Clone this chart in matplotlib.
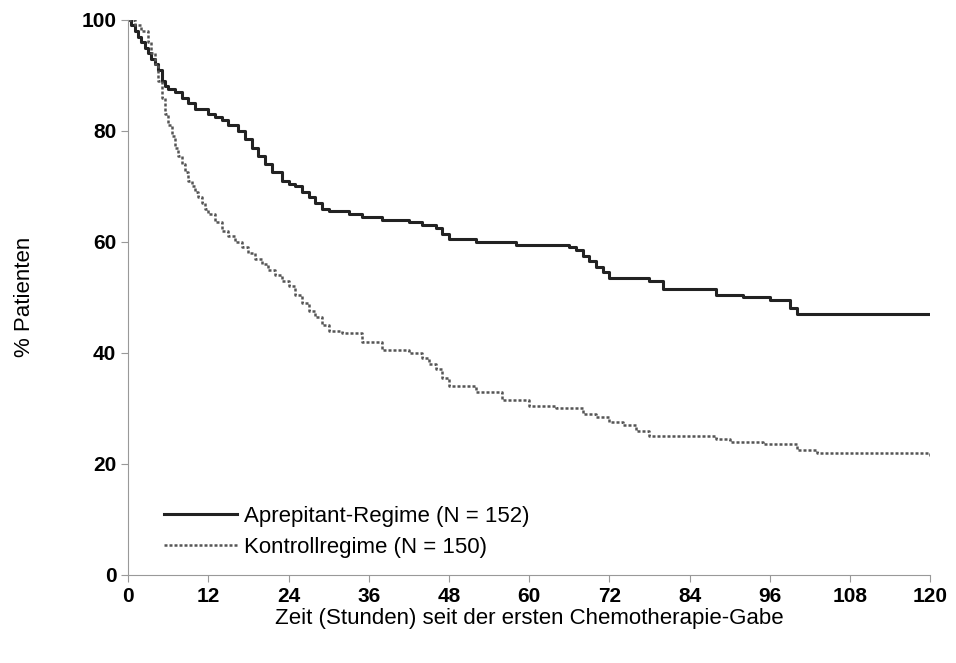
import matplotlib.pyplot as plt

plt.rcParams['font.family'] = ['Liberation Sans', 'DejaVu Sans']

# Kaplan-Meier style step data
apr_t = [0, 0.5, 1, 1.5, 2, 2.5, 3, 3.5, 4, 4.5, 5, 5.5, 6, 7, 8, 9, 10, 12, 13, 14, 15, 16.5, 17.5, 18.5, 19.5,
         20.5, 21.5, 23, 24, 25, 26, 27, 28, 29, 30, 33, 35, 38, 42, 44, 46, 47, 48,
         52, 54, 58, 66, 67, 68, 69, 70, 71, 72, 74, 78, 80, 86, 88, 92, 96, 99, 100, 104, 120]
apr_y = [100, 99, 98, 97, 96, 95, 94, 93, 92, 91, 89, 88, 87.5, 87, 86, 85, 84, 83, 82.5, 82, 81, 80, 78.5, 77, 75.5,
         74, 72.5, 71, 70.5, 70, 69, 68, 67, 66, 65.5, 65, 64.5, 64, 63.5, 63, 62.5, 61.5, 60.5,
         60, 60, 59.5, 59, 58.5, 57.5, 56.5, 55.5, 54.5, 53.5, 53.5, 53, 51.5, 51.5, 50.5, 50, 49.5, 48, 47, 47, 47]

ctl_t = [0, 1, 2, 3, 3.5, 4, 4.5, 5, 5.5, 6, 6.5, 7, 7.5, 8, 8.5, 9, 9.5, 10, 10.5, 11, 11.5, 12, 13, 14, 15, 16,
         17, 18, 19, 20, 21, 22, 23, 24, 25, 26, 27, 28, 29, 30, 32,
         35, 38, 42, 44, 45, 46, 47, 48, 52, 56, 60, 64, 68, 70, 72, 74, 76, 78, 84, 88, 90, 95, 100, 103, 120]
ctl_y = [100, 99, 98, 96, 94, 92, 89, 86, 83, 81, 79, 77, 75.5, 74, 72.5, 71, 70, 69, 68, 67, 66, 65, 63.5, 62, 61, 60,
         59, 58, 57, 56, 55, 54, 53, 52, 50.5, 49, 47.5, 46.5, 45, 44, 43.5,
         42, 40.5, 40, 39, 38, 37, 35.5, 34, 33, 31.5, 30.5, 30, 29, 28.5, 27.5, 27, 26, 25, 25, 24.5, 24, 23.5, 22.5, 22, 21.5]

fig, ax = plt.subplots(figsize=(9.56, 6.63), dpi=100)
fig.subplots_adjust(left=0.134, right=0.973, top=0.97, bottom=0.133)

ax.step(apr_t, apr_y, where='post', color='#222222', lw=2.2, label='Aprepitant-Regime (N = 152)')
ax.step(ctl_t, ctl_y, where='post', color='#555555', lw=1.8, ls=(0, (1.2, 0.8)),
        label='Kontrollregime (N = 150)')

ax.set_xlim(0, 120)
ax.set_ylim(0, 100)
ax.set_xticks(range(0, 121, 12))
ax.set_yticks(range(0, 101, 20))
for lab in ax.get_xticklabels() + ax.get_yticklabels():
    lab.set_fontweight('bold')
    lab.set_fontsize(15)
ax.spines['top'].set_visible(False)
ax.spines['right'].set_visible(False)
ax.spines['left'].set_color('#999999')
ax.spines['bottom'].set_color('#999999')
ax.tick_params(axis='both', colors='#999999', labelcolor='black', length=5)

ax.set_xlabel('Zeit (Stunden) seit der ersten Chemotherapie-Gabe', fontsize=16, labelpad=2)
ax.set_ylabel('% Patienten', fontsize=16, labelpad=33)

ax.legend(loc='lower left', bbox_to_anchor=(0.02, -0.005), frameon=False, fontsize=16,
          handlelength=3.3, handletextpad=0.3, labelspacing=0.45)

fig.savefig('out.png')
